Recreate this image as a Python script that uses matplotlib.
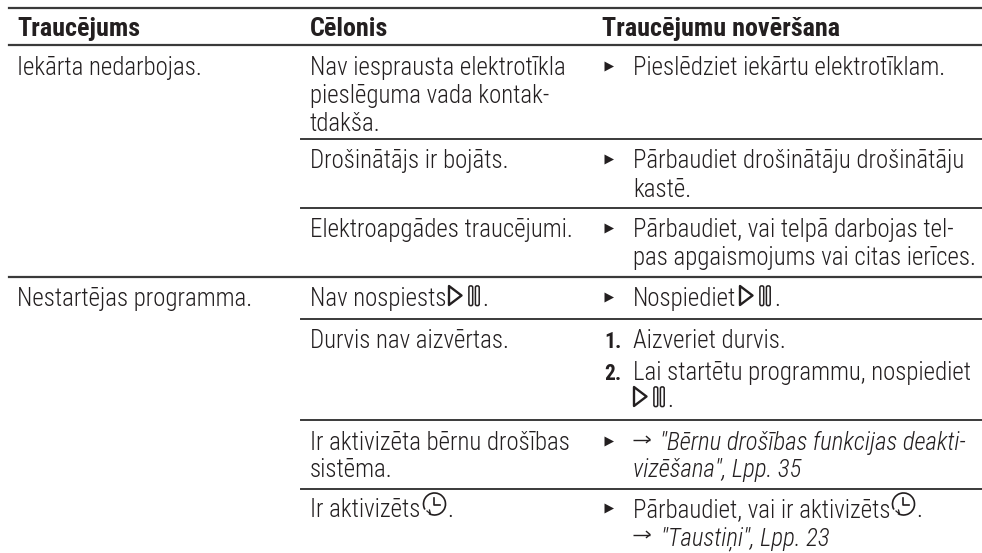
#!/usr/bin/env python3
"""Troubleshooting table from a washing machine manual, redrawn with matplotlib."""
import matplotlib
matplotlib.use("Agg")
import matplotlib.pyplot as plt
from matplotlib.patches import Arc, FancyBboxPatch, Polygon

W, H = 982, 553
FAMILY = ["Roboto Condensed", "Liberation Sans", "DejaVu Sans"]
INK = "#231f20"
RULE = "#3a3a3a"
FS = 17.9
FS_HEAD = 18.8
FS_NUM = 15.5

HEADERS = ["Traucējums", "Cēlonis", "Traucējumu novēršana"]
FAULTS = ["Iekārta nedarbojas.", "Nestartējas programma."]
CAUSES = [
    "Nav iesprausta elektrotīkla", "pieslēguma vada kontak-", "tdakša.",
    "Drošinātājs ir bojāts.",
    "Elektroapgādes traucējumi.",
    "Nav nospiests",
    "Durvis nav aizvērtas.",
    "Ir aktivizēta bērnu drošības", "sistēma.",
    "Ir aktivizēts",
]
FIXES = [
    "Pieslēdziet iekārtu elektrotīklam.",
    "Pārbaudiet drošinātāju drošinātāju", "kastē.",
    "Pārbaudiet, vai telpā darbojas tel-", "pas apgaismojums vai citas ierīces.",
    "Nospiediet",
    "Aizveriet durvis.",
    "Lai startētu programmu, nospiediet",
    "Pārbaudiet, vai ir aktivizēts",
]
LINKS = ['"Bērnu drošības funkcijas deakti-', 'vizēšana", Lpp. 35', '"Taustiņi", Lpp. 23']

fig = plt.figure(figsize=(W / 100, H / 100), dpi=100)
ax = fig.add_axes([0, 0, 1, 1])
ax.set_xlim(0, W)
ax.set_ylim(H, 0)
ax.axis("off")


def put(x, y, s, fontweight=300, fontsize=FS, **kw):
    ax.text(x, y, s, family=FAMILY, fontsize=fontsize, color=INK, va="baseline", ha="left",
            fontweight=fontweight, **kw)


def bullet(y):
    ax.add_patch(Polygon([(604.5, y - 13.5), (604.5, y - 3.5), (614, y - 8.5)], closed=True,
                         fc=INK, ec="none"))


def arrow(x, y):
    ax.plot([x, x + 17], [y - 10.5, y - 10.5], color=INK, lw=1.0, solid_capstyle="butt")
    ax.plot([x + 13.5, x + 17, x + 13.5], [y - 13.5, y - 10.5, y - 7.5], color=INK, lw=1.0)


def play_pause(x, y):
    # x = left edge, y = baseline
    ax.add_patch(Polygon([(x + 1, y - 20), (x + 1, y - 1), (x + 13.5, y - 10.5)], closed=True,
                         fc="white", ec=INK, lw=1.7, joinstyle="round"))
    for dx in (20.5, 27):
        ax.add_patch(FancyBboxPatch((x + dx + 1, y - 19.5), 2.6, 18.5, ec=INK, fc="white", lw=1.1,
                                    boxstyle="round,pad=0.6,rounding_size=1.6"))


def clock(cx, cy):
    # ring with the small gap at lower left, as on the appliance's button
    ax.add_patch(Arc((cx, cy), 22, 22, theta1=150, theta2=480, ec=INK, lw=1.2))
    ax.plot([cx - 7.5, cx - 4, cx - 5], [cy + 7, cy + 10, cy + 6], color=INK, lw=0.9)
    ax.plot([cx, cx, cx + 6], [cy - 6.5, cy + 1, cy + 1], color=INK, lw=1.2)


# rules
ax.plot([9, W], [8, 8], color=RULE, lw=1.6)
for y in (45, 277):
    ax.plot([9, W], [y, y], color=RULE, lw=1.6)
for y in (139, 208, 319, 420, 489):
    ax.plot([301, W], [y, y], color=RULE, lw=1.4)

# header
for x, s in zip((17, 310, 602), HEADERS):
    put(x, 36, s, fontweight=700, fontsize=FS_HEAD)

# first column
for y, s in zip((75, 306), FAULTS):
    put(17, y, s)

# second column
cause_y = [75, 103, 131, 168, 237, 306, 348, 450, 477, 517]
for y, s in zip(cause_y, CAUSES):
    put(310, y, s)
put(482, 306, ".")
play_pause(448, 306)
put(447.5, 517, ".")
clock(434.5, 504)

# third column
fix_y = [75, 168, 197, 237, 265, 306, 348, 380, 517]
for y, s in zip(fix_y, FIXES):
    put(633, y, s)
for y in (75, 168, 237, 306, 450, 517):
    bullet(y)
put(774, 306, ".")
play_pause(739, 306)
put(604, 348, "1.", fontweight=700, fontsize=FS_NUM)
put(604, 380, "2.", fontweight=700, fontsize=FS_NUM)
play_pause(633, 407)
put(667, 407, ".")
arrow(633, 450)
put(660, 450, LINKS[0], style="italic")
put(633, 477, LINKS[1], style="italic")
arrow(633, 545)
put(661, 545, LINKS[2], style="italic")
put(916, 517, ".")
clock(903.5, 504)

fig.savefig("out.png", dpi=100)
